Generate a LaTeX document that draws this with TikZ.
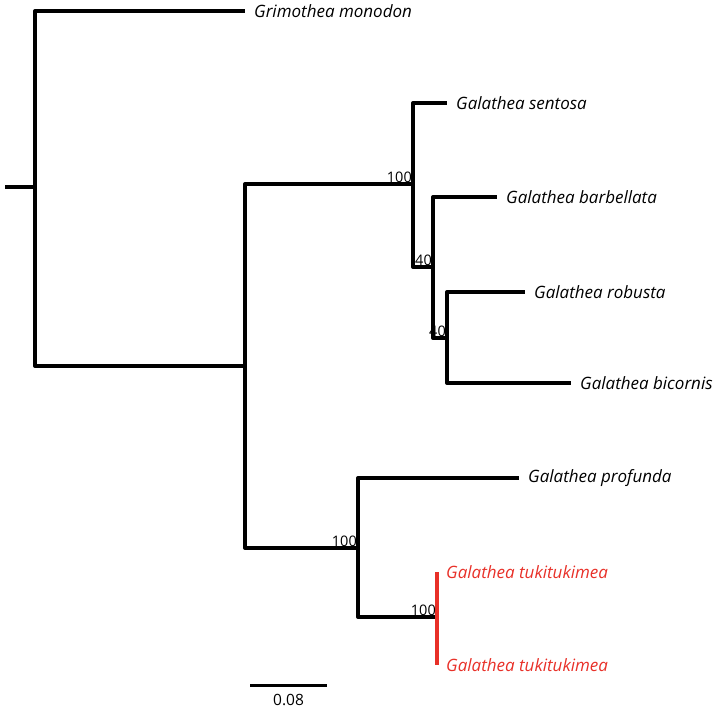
\documentclass[tikz,border=0pt]{standalone}
\usepackage{fontspec}
\setmainfont{Open Sans}
\usetikzlibrary{calc}
\definecolor{hilite}{RGB}{232,48,40}
\tikzset{
  branch/.style={line width=4pt, line join=round},
  taxon/.style={anchor=west, inner sep=0pt, xshift=9pt, font=\itshape\fontsize{17}{19}\selectfont},
  support/.style={anchor=south east, inner sep=1pt, font=\fontsize{14.5}{16}\selectfont},
}
\begin{document}
\begin{tikzpicture}[x=1pt, y=-1pt]
      \useasboundingbox (0,0) rectangle (720,711);
      % inner nodes
      \coordinate (stem) at (5,187);
      \coordinate (root) at (35,187);
      \coordinate (galA) at (245,366);
      \coordinate (galB) at (413,184);
      \coordinate (galC) at (433,267);
      \coordinate (galD) at (447,338);
      \coordinate (galE) at (358,548);
      \coordinate (galF) at (437,617);
      % tips
      \coordinate (grim) at (245,11);
      \coordinate (sent) at (447,103);
      \coordinate (barb) at (497,197);
      \coordinate (robu) at (525,292);
      \coordinate (bico) at (571,383);
      \coordinate (prof) at (519,478);
      \coordinate (tuk1) at (437,572);
      \coordinate (tuk2) at (437,665);
      \begin{scope}[branch]
        \draw (stem) -- (root);
        \draw (root) |- (grim);
        \draw (root) |- (galA);
        \draw (galA) |- (galB);
        \draw (galA) |- (galE);
        \draw (galB) |- (sent);
        \draw (galB) |- (galC);
        \draw (galC) |- (barb);
        \draw (galC) |- (galD);
        \draw (galD) |- (robu);
        \draw (galD) |- (bico);
        \draw (galE) |- (prof);
        \draw (galE) |- (galF);
        \draw[hilite] (galF) -- (tuk1);
        \draw[hilite] (galF) -- (tuk2);
      \end{scope}
      % labels
      \node[taxon] (grimL) at (grim) {Grimothea monodon};
      \node[taxon] (sentL) at (sent) {Galathea sentosa};
      \node[taxon] (barbL) at (barb) {Galathea barbellata};
      \node[taxon] (robuL) at (robu) {Galathea robusta};
      \node[taxon] (bicoL) at (bico) {Galathea bicornis};
      \node[taxon] (profL) at (prof) {Galathea profunda};
      \node[taxon, text=hilite] (tuk1L) at (tuk1) {Galathea tukitukimea};
      \node[taxon, text=hilite] (tuk2L) at (tuk2) {Galathea tukitukimea};
      \node[support] (supB) at (galB) {100};
      \node[support] (supC) at (galC) {40};
      \node[support] (supD) at (galD) {40};
      \node[support] (supE) at (galE) {100};
      \node[support] (supF) at (galF) {100};
      % scale bar
      \coordinate (barL) at (250,685);
      \coordinate (barR) at (327,685);
      \draw[line width=3pt] (barL) -- (barR);
      \node[font=\fontsize{15.5}{17}\selectfont, below=6pt] (barT) at ($(barL)!0.5!(barR)$) {0.08};
    \end{tikzpicture}
\end{document}
